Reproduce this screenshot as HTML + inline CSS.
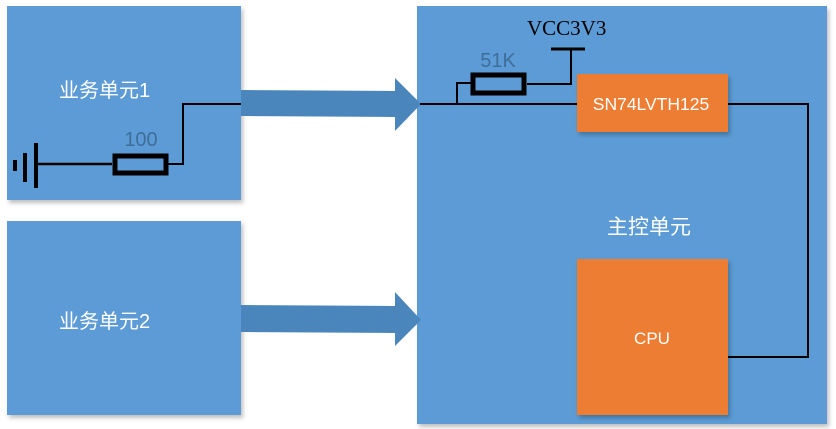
<!DOCTYPE html>
<html><head><meta charset="utf-8"><style>
html,body{margin:0;padding:0;background:#fff;width:836px;height:429px;overflow:hidden}
svg{display:block}
text{font-family:"Liberation Sans","Noto Sans CJK SC",sans-serif}
</style></head><body>
<svg width="836" height="429" viewBox="0 0 836 429" xmlns="http://www.w3.org/2000/svg">
<defs><filter id="sh" x="-5%" y="-5%" width="115%" height="115%"><feDropShadow dx="2" dy="3" stdDeviation="2" flood-color="#000" flood-opacity="0.25"/></filter></defs>
<rect x="7" y="6" width="234" height="194" fill="#5b9bd5" filter="url(#sh)"/>
<rect x="7" y="221" width="234" height="194" fill="#5b9bd5" filter="url(#sh)"/>
<rect x="417" y="6" width="410" height="418" fill="#5b9bd5" filter="url(#sh)"/>
<polygon points="241,90 395,91 395,78 421,104 395,131 395,117 241,116" fill="#4a86bb"/>
<polygon points="241,305 395,306 395,292 421,320 395,346 395,333 241,332" fill="#4a86bb"/>
<text x="59" y="97" font-size="20" fill="#fff">业务单元1</text>
<text x="59" y="328" font-size="20" fill="#fff">业务单元2</text>
<text x="607" y="234" font-size="21" fill="#fff">主控单元</text>
<!-- ground -->
<rect x="13" y="160" width="4" height="11" fill="#000"/>
<rect x="23" y="153" width="4" height="29" fill="#000"/>
<rect x="34" y="143" width="4" height="45" fill="#000"/>
<line x1="36" y1="164" x2="112" y2="164" stroke="#000" stroke-width="2.5"/>
<rect x="115" y="156" width="51" height="17" fill="none" stroke="#000" stroke-width="5"/>
<polyline points="168,164 183,164 183,104 241,104" fill="none" stroke="#000" stroke-width="2"/>
<text x="141" y="146" font-size="20" fill="#3e6e9c" text-anchor="middle">100</text>
<!-- main circuits -->
<line x1="420" y1="104" x2="577" y2="104" stroke="#000" stroke-width="2"/>
<polyline points="457,104 457,83 471,83" fill="none" stroke="#000" stroke-width="2"/>
<rect x="473" y="75" width="51" height="18" fill="none" stroke="#000" stroke-width="5"/>
<polyline points="527,84 571,84 571,49" fill="none" stroke="#000" stroke-width="2"/>
<line x1="551" y1="49" x2="585" y2="49" stroke="#000" stroke-width="3"/>
<text x="527" y="35" font-size="21" fill="#000" style="font-family:'Liberation Serif',serif">VCC3V3</text>
<text x="498" y="67" font-size="20" fill="#3e6e9c" text-anchor="middle">51K</text>
<polyline points="728,104 808,104 808,357 728,357" fill="none" stroke="#000" stroke-width="2"/>
<rect x="577" y="74" width="151" height="58" fill="#ed7d31" filter="url(#sh)"/>
<text x="651" y="110" font-size="17.5" fill="#fff" text-anchor="middle">SN74LVTH125</text>
<rect x="577" y="259" width="151" height="156" fill="#ed7d31" filter="url(#sh)"/>
<text x="652" y="344" font-size="17" fill="#fff" text-anchor="middle">CPU</text>
</svg>
</body></html>
